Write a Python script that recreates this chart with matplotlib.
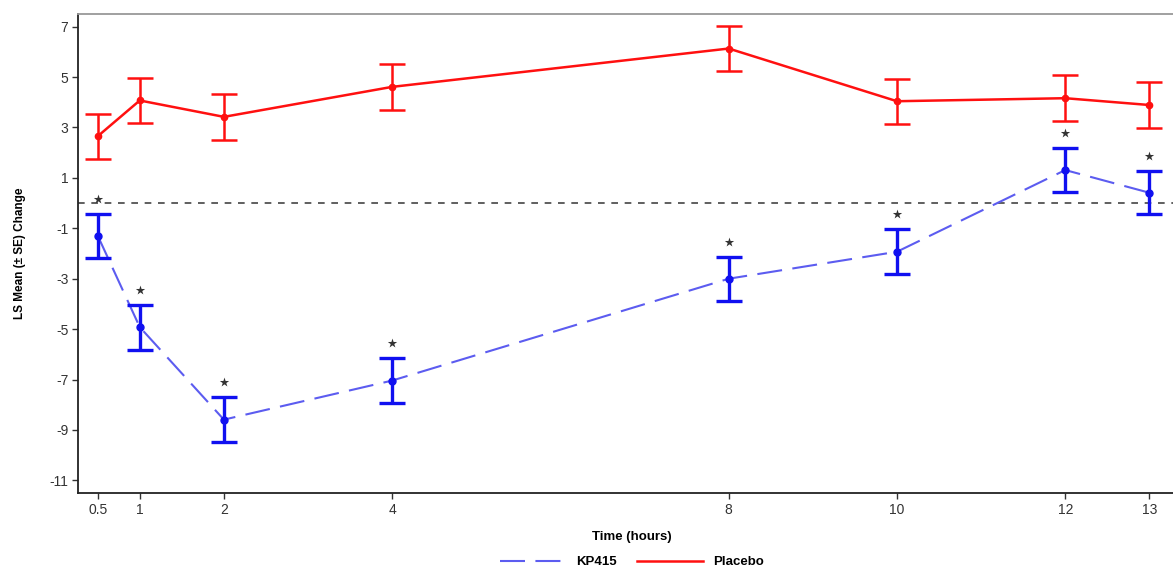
import matplotlib
matplotlib.use("Agg")
import matplotlib.pyplot as plt
from matplotlib.lines import Line2D

plt.rcParams['font.family'] = ['Liberation Sans', 'DejaVu Sans']

time_h = [0.5, 1, 2, 4, 8, 10, 12, 13]
tick_labels = ['0.5', '1', '2', '4', '8', '10', '12', '13']
placebo_mean = [2.65, 4.07, 3.42, 4.61, 6.13, 4.04, 4.16, 3.89]
placebo_se = [0.90, 0.90, 0.90, 0.90, 0.90, 0.90, 0.91, 0.90]
kp415_mean = [-1.29, -4.92, -8.59, -7.04, -3.00, -1.93, 1.31, 0.41]
kp415_se = [0.87, 0.89, 0.88, 0.88, 0.87, 0.89, 0.88, 0.86]
y_ticks = [7, 5, 3, 1, -1, -3, -5, -7, -9, -11]

fig = plt.figure(figsize=(11.73, 5.73), dpi=100)
ax = fig.add_axes([78/1173, 1 - 493/573, 1 - 78/1173 + 0.01, (493 - 14)/573])

# Zero reference line
ax.axhline(0, color='#444444', lw=1.2, ls=(0, (4, 4)), zorder=1)

# Placebo
ax.errorbar(time_h, placebo_mean, yerr=placebo_se, color='#ff1010', lw=1.8,
            elinewidth=1.8, capsize=9.5, capthick=1.8, marker='o', ms=4.5, zorder=3)

# KP415 line (dashed) and error bars
ax.plot(time_h, kp415_mean, color='#5c5cf0', lw=1.5, ls=(0, (12, 5)), zorder=2)
ax.errorbar(time_h, kp415_mean, yerr=kp415_se, color='#1010f0', ls='none',
            elinewidth=2.4, capsize=9.5, capthick=2.4, marker='o', ms=5, zorder=3)

# Significance stars
star_y = [m + s + 0.6 for m, s in zip(kp415_mean, kp415_se)]
ax.scatter(time_h, star_y, marker='*', s=50, color='#333333', zorder=4, linewidths=0)

ax.set_xlim(0.266, 13.42)
ax.set_ylim(-11.5, 7.5)
ax.set_xticks(time_h)
ax.set_xticklabels(tick_labels, fontsize=10, color='#333333')
ax.set_yticks(y_ticks)
ax.set_yticklabels([str(v) for v in y_ticks], fontsize=10, color='#333333')
ax.tick_params(axis='both', length=4, width=1, color='#333333', pad=3)

for side in ['left', 'bottom']:
    ax.spines[side].set_color('#222222')
    ax.spines[side].set_linewidth(1.3)
ax.spines['top'].set_color('#999999')
ax.spines['top'].set_linewidth(1.3)
ax.spines['right'].set_visible(False)

ax.set_xlabel('Time (hours)', fontsize=9.5, fontweight='bold', labelpad=10)
ax.set_ylabel('LS Mean (± SE) Change', fontsize=8.5, fontweight='bold', labelpad=17)

handles = [Line2D([], [], color='#5c5cf0', lw=1.5, ls=(0, (12, 5))),
           Line2D([], [], color='#ff1010', lw=1.8)]
fig.legend(handles, ['KP415', 'Placebo'], loc='center', bbox_to_anchor=(632/1173, 1 - 562/573),
           ncol=2, frameon=False, handlelength=5, columnspacing=1.5,
           prop={'weight': 'bold', 'size': 9.5})

fig.savefig('out.png', dpi=100, facecolor='white')
